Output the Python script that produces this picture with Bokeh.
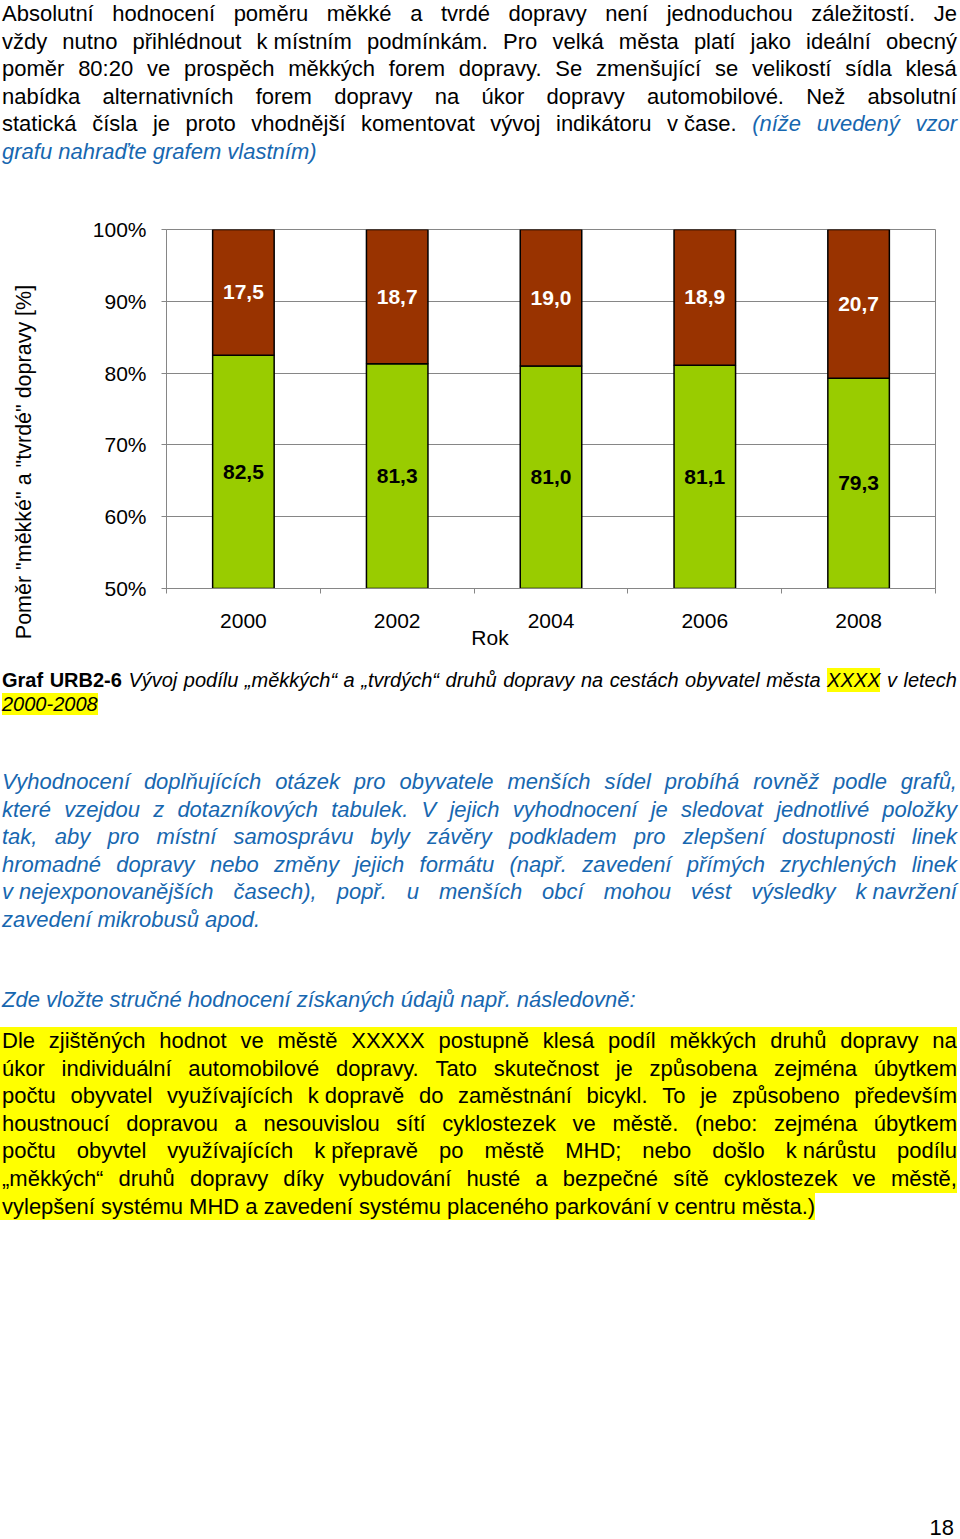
from bokeh.plotting import figure
from bokeh.models import ColumnDataSource, FixedTicker, Div, Range1d
from bokeh.layouts import column
from bokeh.core.properties import value
from bokeh.embed import file_html
from bokeh.resources import INLINE

# ---------------- data ----------------
years = ["2000", "2002", "2004", "2006", "2008"]
soft = [82.5, 81.3, 81.0, 81.1, 79.3]   # "měkká" doprava [%]
hard = [17.5, 18.7, 19.0, 18.9, 20.7]   # "tvrdá" doprava [%]
y_ticks = [50, 60, 70, 80, 90, 100]
y_tick_labels = ["50%", "60%", "70%", "80%", "90%", "100%"]
Y_START, Y_END = 50, 100
y_title = 'Poměr "měkké" a "tvrdé" dopravy [%]'
x_title = "Rok"

FONT = "Liberation Sans"
CSSFONT = "'Liberation Sans', Arial, Helvetica, sans-serif"
GREEN = "#99CC00"
BROWN = "#993300"
GRAY = "#868686"
BLUE = "#1767B0"
YEL = "#FFFF00"
CHART_FS = "21px"

def fmt(v):
    return f"{v:.1f}".replace(".", ",")

xs = [i + 0.5 for i in range(len(years))]
hard_top = [s + h for s, h in zip(soft, hard)]
src = ColumnDataSource(dict(
    x=xs,
    soft=soft,
    hard_top=hard_top,
    soft_mid=[(Y_START + s) / 2 for s in soft],
    hard_mid=[s + h / 2 for s, h in zip(soft, hard)],
    soft_lbl=[fmt(v) for v in soft],
    hard_lbl=[fmt(v) for v in hard],
))

# ---------------- chart ----------------
p = figure(width=960, height=470, x_range=Range1d(0, len(years)),
           y_range=Range1d(Y_START, Y_END), output_backend="svg",
           toolbar_location=None, min_border_left=166, min_border_right=25,
           min_border_top=39, min_border_bottom=72, margin=0)
p.background_fill_color = "white"
p.border_fill_color = "white"
p.outline_line_color = GRAY
p.outline_line_width = 1

p.xgrid.visible = False
p.ygrid.ticker = FixedTicker(ticks=y_ticks)
p.ygrid.grid_line_color = GRAY
p.ygrid.grid_line_width = 1

xa = p.xaxis[0]
xa.ticker = FixedTicker(ticks=xs, minor_ticks=list(range(len(years) + 1)))
xa.major_label_overrides = {x: y for x, y in zip(xs, years)}
xa.major_tick_out = 0
xa.major_tick_in = 0
xa.minor_tick_out = 5
xa.minor_tick_in = 0
xa.minor_tick_line_color = GRAY
xa.axis_line_color = GRAY
xa.major_label_standoff = 20
xa.major_label_text_font = FONT
xa.major_label_text_font_size = CHART_FS
xa.major_label_text_color = "black"

ya = p.yaxis[0]
ya.ticker = FixedTicker(ticks=y_ticks)
ya.major_label_overrides = {t: l for t, l in zip(y_ticks, y_tick_labels)}
ya.major_tick_out = 5
ya.major_tick_in = 0
ya.major_tick_line_color = GRAY
ya.minor_tick_out = 0
ya.minor_tick_in = 0
ya.axis_line_color = GRAY
ya.major_label_standoff = 15
ya.major_label_text_font = FONT
ya.major_label_text_font_size = CHART_FS
ya.major_label_text_color = "black"

p.vbar(x="x", width=0.4, bottom=Y_START, top="soft", source=src,
       fill_color=GREEN, line_color="black", line_width=1.5)
p.vbar(x="x", width=0.4, bottom="soft", top="hard_top", source=src,
       fill_color=BROWN, line_color="black", line_width=1.5)

p.text(x="x", y="hard_mid", text="hard_lbl", source=src, text_color="white",
       text_font=value(FONT), text_font_style="bold", text_font_size=CHART_FS,
       text_align="center", text_baseline="middle")
p.text(x="x", y="soft_mid", text="soft_lbl", source=src, text_color="black",
       text_font=value(FONT), text_font_style="bold", text_font_size=CHART_FS,
       text_align="center", text_baseline="middle")

# ---------------- text helpers ----------------
def _w(t):
    return t.replace("~", "&nbsp;")

def jline(segments, extra=""):
    spans = []
    for txt, css in segments:
        for w in txt.split(" "):
            if w:
                spans.append(f'<span style="{css}">{_w(w)}</span>')
    return ('<div style="display:flex; justify-content:space-between; '
            f'white-space:nowrap; {extra}">' + "".join(spans) + "</div>")

def lline(segments, extra=""):
    inner = "".join(f'<span style="{css}">{_w(t)}</span>' for t, css in segments)
    return f'<div style="white-space:nowrap; {extra}">{inner}</div>'

N = ""
IT_BLUE = f"font-style:italic; color:{BLUE};"

top_lines = [
    jline([("Absolutní hodnocení poměru měkké a tvrdé dopravy není jednoduchou záležitostí. Je", N)]),
    jline([("vždy nutno přihlédnout k~místním podmínkám. Pro velká města platí jako ideální obecný", N)]),
    jline([("poměr 80:20 ve prospěch měkkých forem dopravy. Se zmenšující se velikostí sídla klesá", N)]),
    jline([("nabídka alternativních forem dopravy na úkor dopravy automobilové. Než absolutní", N)]),
    jline([("statická čísla je proto vhodnější komentovat vývoj indikátoru v~čase.", N),
           ("(níže uvedený vzor", IT_BLUE)]),
    lline([("grafu nahraďte grafem vlastním)", IT_BLUE)]),
]
top_html = (f'<div style="position:relative; top:0px; left:2px; width:955px; '
            f'font-family:{CSSFONT}; font-size:22px; line-height:27.6px; color:#000;">'
            + "".join(top_lines) + "</div>")

HL = f"background:{YEL};"
IT = "font-style:italic;"
cap_lines = [
    jline([("Graf URB2-6", "font-weight:bold;"),
           ("Vývoj podílu „měkkých“ a „tvrdých“ druhů dopravy na cestách obyvatel města", IT),
           ("XXXX", IT + HL), ("v letech", IT)]),
    lline([("2000-2008", IT + HL)]),
]

blue_lines = [
    jline([("Vyhodnocení doplňujících otázek pro obyvatele menších sídel probíhá rovněž podle grafů,", N)]),
    jline([("které vzejdou z dotazníkových tabulek. V jejich vyhodnocení je sledovat jednotlivé položky", N)]),
    jline([("tak, aby pro místní samosprávu byly závěry podkladem pro zlepšení dostupnosti linek", N)]),
    jline([("hromadné dopravy nebo změny jejich formátu (např. zavedení přímých zrychlených linek", N)]),
    jline([("v~nejexponovanějších časech), popř. u menších obcí mohou vést výsledky k~navržení", N)]),
    lline([("zavedení mikrobusů apod.", N)]),
]

YL = f"background:{YEL}; padding-left:2px; margin-left:-2px;"
yellow_lines = [
    jline([("Dle zjištěných hodnot ve městě XXXXX postupně klesá podíl měkkých druhů dopravy na", N)], YL),
    jline([("úkor individuální automobilové dopravy. Tato skutečnost je způsobena zejména úbytkem", N)], YL),
    jline([("počtu obyvatel využívajících k~dopravě do zaměstnání bicykl. To je způsobeno především", N)], YL),
    jline([("houstnoucí dopravou a nesouvislou sítí cyklostezek ve městě. (nebo: zejména úbytkem", N)], YL),
    jline([("počtu obyvtel využívajících k~přepravě po městě MHD; nebo došlo k~nárůstu podílu", N)], YL),
    jline([("„měkkých“ druhů dopravy díky vybudování husté a bezpečné sítě cyklostezek ve městě,", N)], YL),
    lline([("vylepšení systému MHD a zavedení systému placeného parkování v centru města.)", N)],
          YL + " width:fit-content;"),
]

LOW_TOP = 660  # page y where the lower text block starts
WRAP_L = 2

def block(y, html, extra=""):
    return (f'<div style="position:absolute; left:0; top:{y - LOW_TOP}px; width:955px; {extra}">'
            f'{html}</div>')

def centered(cx, cy, html, fs, extra=""):
    return (f'<div style="position:absolute; left:{cx - WRAP_L}px; top:{cy - LOW_TOP}px; '
            f'transform:translate(-50%,-50%) {extra}; white-space:nowrap; '
            f'font-size:{fs}; line-height:24px; color:#000;">{html}</div>')

low_html = (
    f'<div style="position:relative; left:{WRAP_L}px; width:955px; height:879px; '
    f'font-family:{CSSFONT}; color:#000;">'
    # chart axis titles (overlaying the chart area above this block)
    + centered(24, 462, y_title, "21.5px", "rotate(-90deg)")
    + centered(490, 638, x_title, "21px")
    + block(668, "".join(cap_lines), "font-size:20px; line-height:24px;")
    + block(768, "".join(blue_lines), f"font-size:22px; line-height:27.6px; {IT_BLUE}")
    + block(986, lline([("Zde vložte stručné hodnocení získaných údajů např. následovně:", N)]),
            f"font-size:22px; line-height:27.6px; {IT_BLUE}")
    + block(1027, "".join(yellow_lines), "font-size:22px; line-height:27.6px;")
    + f'<div style="position:absolute; right:3px; top:{1518 - LOW_TOP}px; '
      f'font-size:22px; line-height:20px;">18</div>'
    + "</div>"
)

top_div = Div(text=top_html, width=960, height=190, margin=0)
low_div = Div(text=low_html, width=960, height=879, margin=0)

layout = column(top_div, p, low_div, spacing=0, margin=0)

open("out.html", "w").write(file_html(layout, INLINE))
